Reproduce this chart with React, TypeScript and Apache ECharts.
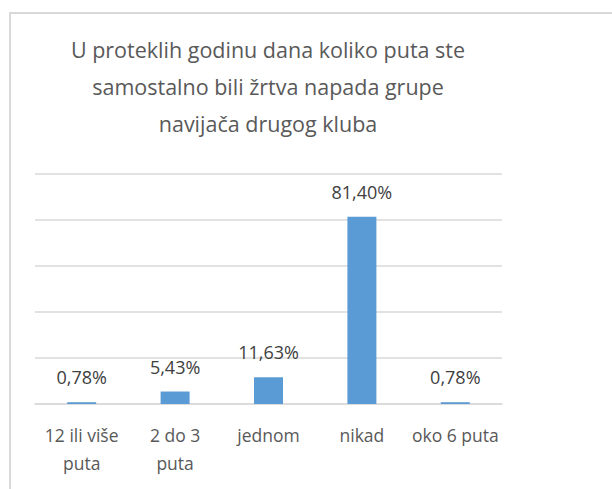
import React, { useEffect, useRef } from "react";
import * as echarts from "echarts";

const titleLines = [
  "U proteklih godinu dana koliko puta ste",
  "samostalno bili žrtva napada grupe",
  "navijača drugog kluba",
];
const categories = ["12 ili više puta", "2 do 3 puta", "jednom", "nikad", "oko 6 puta"];
const values = [0.78, 5.43, 11.63, 81.4, 0.78];

const FONT = "'Open Sans', sans-serif";

const wrapLabel = (s: string) => {
  if (s.length <= 10) return s;
  const i = s.lastIndexOf(" ");
  return s.slice(0, i) + "\n" + s.slice(i + 1);
};

export default function App() {
  const ref = useRef<HTMLDivElement>(null);
  useEffect(() => {
    if (!ref.current) return;
    const chart = echarts.init(ref.current, null, { renderer: "svg" });
    chart.setOption({
      animation: false,
      backgroundColor: "#ffffff",
      title: {
        text: titleLines.join("\n"),
        left: 263,
        top: 26,
        textAlign: "center",
        textStyle: {
          fontFamily: FONT,
          fontSize: 21.5,
          fontWeight: "normal",
          lineHeight: 37,
          color: "#595959",
        },
      },
      graphic: [
        {
          type: "rect",
          shape: { x: 10, y: 13, width: 700, height: 600 },
          style: { fill: "none", stroke: "#d9d9d9", lineWidth: 2 },
          silent: true,
        },
      ],
      grid: { left: 35, right: 110, top: 174, bottom: 85, containLabel: false },
      xAxis: {
        type: "category",
        data: categories,
        axisTick: { show: false },
        axisLine: { lineStyle: { color: "#d9d9d9", width: 1.5 } },
        axisLabel: {
          interval: 0,
          margin: 17,
          formatter: wrapLabel,
          fontFamily: FONT,
          fontSize: 17.5,
          lineHeight: 28,
          color: "#595959",
        },
      },
      yAxis: {
        type: "value",
        min: 0,
        max: 100,
        interval: 20,
        axisLabel: { show: false },
        axisLine: { show: false },
        axisTick: { show: false },
        splitLine: { lineStyle: { color: "#d9d9d9", width: 1.5 } },
      },
      series: [
        {
          type: "bar",
          data: values,
          barWidth: 29,
          itemStyle: { color: "#5b9bd5" },
          label: {
            show: true,
            position: "top",
            distance: 16,
            formatter: (p: any) => p.value.toFixed(2).replace(".", ",") + "%",
            fontFamily: FONT,
            fontSize: 18,
            color: "#404040",
          },
        },
      ],
    });
    return () => chart.dispose();
  }, []);
  return (
    <div
      ref={ref}
      style={{ position: "fixed", left: 0, top: 0, width: 612, height: 489 }}
    />
  );
}
